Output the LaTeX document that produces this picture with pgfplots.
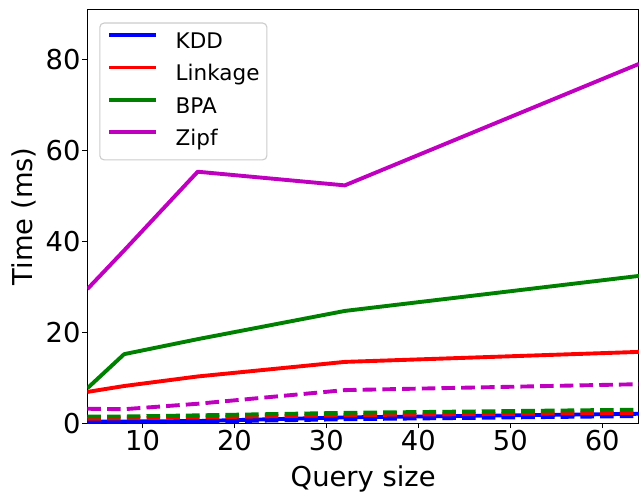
\documentclass[border=0pt]{standalone}
\usepackage{fontspec}
\setmainfont{DejaVu Sans}
\usepackage{pgfplots}
\pgfplotsset{compat=1.18}
\definecolor{mb}{rgb}{0,0,1}
\definecolor{mr}{rgb}{1,0,0}
\definecolor{mg}{rgb}{0,0.5,0}
\definecolor{mm}{rgb}{0.75,0,0.75}
\definecolor{legedge}{rgb}{0.8,0.8,0.8}
\begin{document}
\begin{tikzpicture}
\begin{axis}[
  scale only axis,
  width=397.2pt, height=298.1pt,
  xmin=4, xmax=64, ymin=0, ymax=91,
  xtick={10,20,30,40,50,60},
  ytick={0,20,40,60,80},
  tick align=outside,
  xtick pos=bottom, ytick pos=left,
  major tick length=3.5pt,
  tick style={black, line width=0.8pt},
  axis line style={black, line width=0.8pt},
  /pgf/number format/assume math mode=true,
  tick label style={font=\fontsize{19.7}{23}\selectfont},
  xticklabel style={inner sep=0pt, anchor=north},
  yticklabel style={inner sep=0pt, anchor=east},
  xlabel={Query size}, ylabel={Time (ms)},
  label style={font=\fontsize{19.7}{23}\selectfont},
  xlabel style={at={(axis description cs:0.5,-0.153)}, anchor=base, inner sep=0pt},
  ylabel style={at={(axis description cs:-0.0995,0.5)}, anchor=base, inner sep=0pt},
  legend style={at={(axis description cs:0,1)}, anchor=north west, xshift=8.6pt, yshift=-9.5pt,
    draw=legedge, line width=0.8pt, rounded corners=3pt,
    font=\fontsize{15.5}{18}\selectfont, inner xsep=5.3pt, inner ysep=6.8pt,
    row sep=8.3pt,
    nodes={inner sep=0pt, text height=11.5pt, text depth=3.5pt},
    /tikz/every odd column/.append style={column sep=12.5pt}},
  legend cell align=left,
  legend image code/.code={\draw[#1, line width=2.8pt] (0pt,5.6pt) -- (34pt,5.6pt);},
  line width=2.8pt,
]
% solid lines
\addplot[mb, line join=round] coordinates {(4,0.35) (8,0.4) (16,0.5) (32,1.3) (64,2.1)};
\addlegendentry{KDD}
\addplot[mr, line join=round] coordinates {(4,6.9) (8,8.2) (16,10.3) (32,13.5) (64,15.7)};
\addlegendentry{Linkage}
\addplot[mg, line join=round] coordinates {(4,7.7) (8,15.2) (16,18.5) (32,24.7) (64,32.4)};
\addlegendentry{BPA}
\addplot[mm, line join=round] coordinates {(4,29.5) (8,38.0) (16,55.3) (32,52.3) (64,79.0)};
\addlegendentry{Zipf}
% dashed lines
\addplot[mb, forget plot, dash pattern=on 9.8pt off 4.4pt] coordinates {(4,0.2) (8,0.25) (16,0.35) (32,0.9) (64,1.6)};
\addplot[mr, forget plot, dash pattern=on 9.8pt off 4.4pt] coordinates {(4,1.0) (8,1.1) (16,1.3) (32,1.8) (64,2.3)};
\addplot[mg, forget plot, dash pattern=on 9.8pt off 4.4pt] coordinates {(4,1.5) (8,1.5) (16,1.75) (32,2.3) (64,3.0)};
\addplot[mm, forget plot, dash pattern=on 9.8pt off 4.4pt] coordinates {(4,3.2) (8,3.1) (16,4.3) (32,7.3) (64,8.6)};
\end{axis}
\pgfresetboundingbox
\path[use as bounding box] ([xshift=-62.9pt, yshift=-50.2pt]current axis.south west) rectangle ([yshift=6.7pt]current axis.north east);
\end{tikzpicture}
\end{document}
